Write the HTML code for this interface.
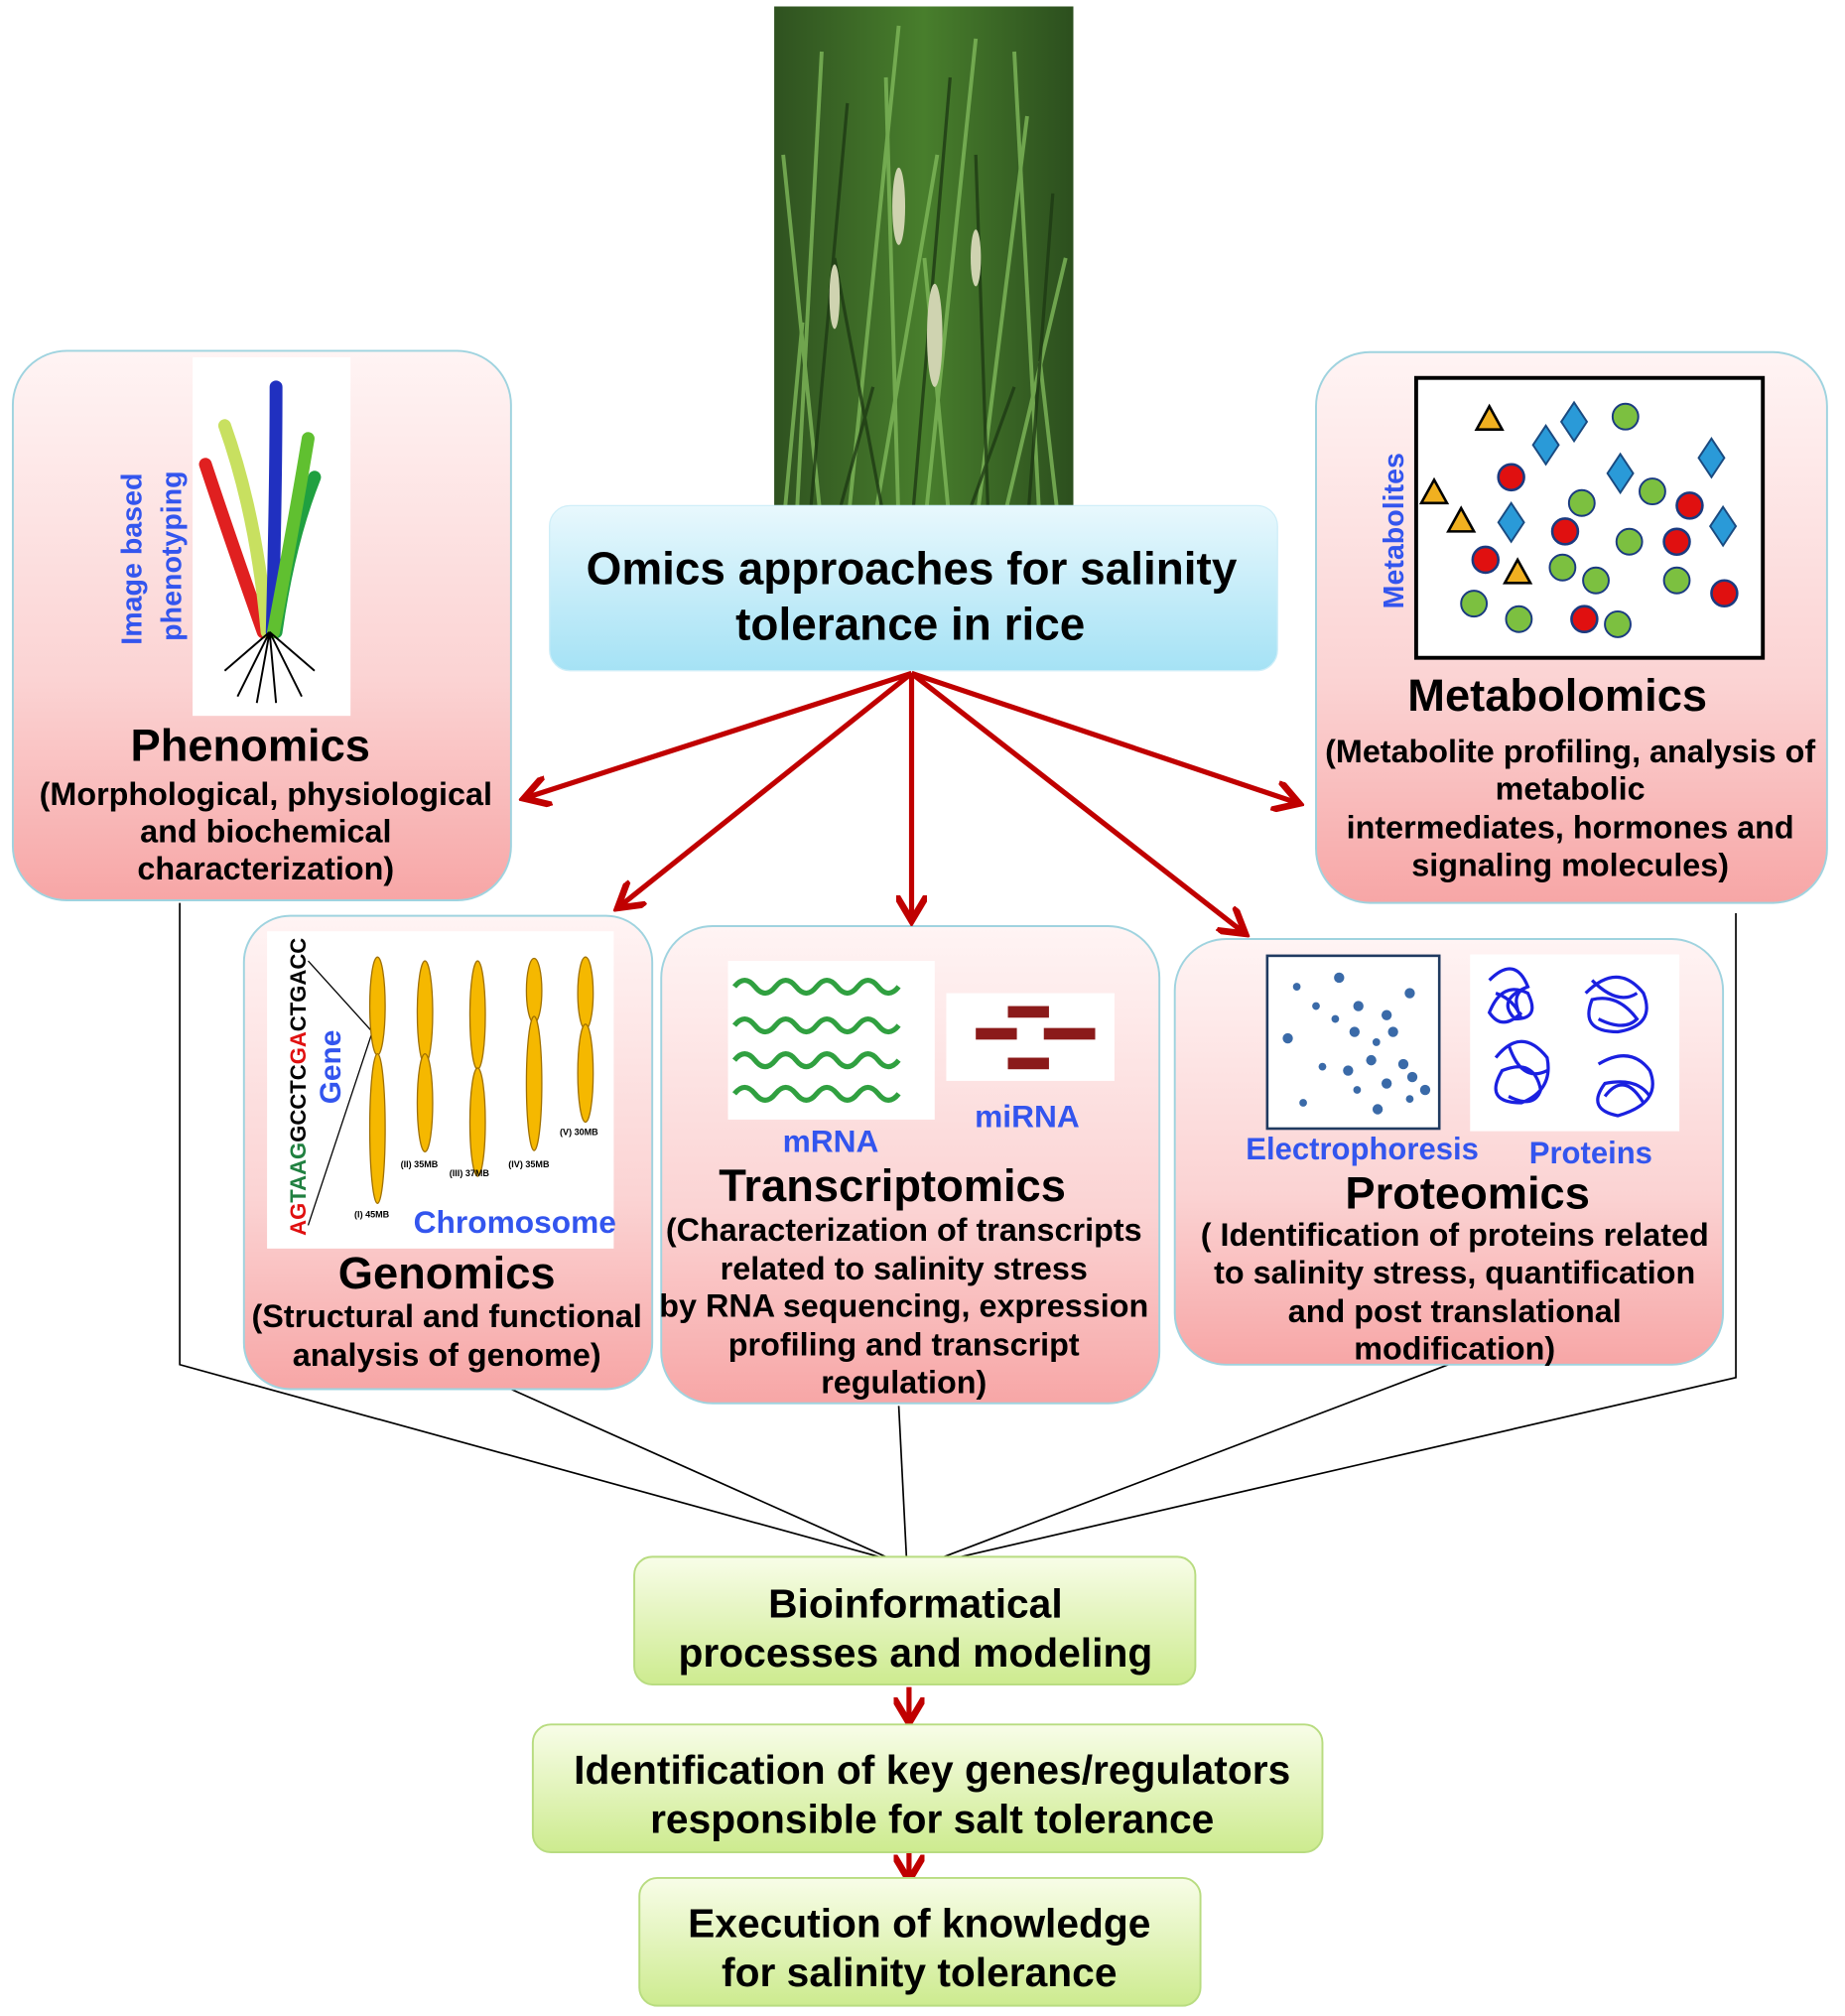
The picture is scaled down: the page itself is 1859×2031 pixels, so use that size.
<!DOCTYPE html>
<html><head><meta charset="utf-8"><style>
html,body{margin:0;padding:0;background:#fff;}
svg{display:block;}
text{font-family:"Liberation Sans",Arial,sans-serif;font-weight:bold;}
</style></head><body>
<svg width="1859" height="2031" viewBox="0 0 1437 1563" preserveAspectRatio="none" xmlns="http://www.w3.org/2000/svg">
<defs>
<linearGradient id="pk" x1="0" y1="0" x2="0" y2="1"><stop offset="0" stop-color="#fff4f4"/><stop offset="0.6" stop-color="#fbd3d3"/><stop offset="1" stop-color="#f7a6a6"/></linearGradient>
<linearGradient id="bl" x1="0" y1="0" x2="0" y2="1"><stop offset="0" stop-color="#e8f8fd"/><stop offset="1" stop-color="#a5e2f5"/></linearGradient>
<linearGradient id="gr" x1="0" y1="0" x2="0" y2="1"><stop offset="0" stop-color="#f8fde8"/><stop offset="1" stop-color="#cdeb8f"/></linearGradient>
<linearGradient id="ph" x1="0" y1="0" x2="1" y2="0"><stop offset="0" stop-color="#2f5220"/><stop offset="0.5" stop-color="#487e2c"/><stop offset="1" stop-color="#2c4f1e"/></linearGradient>
<marker id="ar" markerWidth="6" markerHeight="6" refX="5" refY="3" orient="auto" markerUnits="strokeWidth"><path d="M0,0 L5,3 L0,6" fill="none" stroke="#c00000" stroke-width="1.3"/></marker>
</defs>

<!-- photo -->
<rect x="603" y="5" width="233" height="405" fill="url(#ph)"/>
<g stroke="#7fb85a" stroke-width="3" opacity="0.8" fill="none">
<path d="M620 410 L640 40"/><path d="M660 410 L700 20"/><path d="M700 410 L690 60"/><path d="M720 410 L760 30"/><path d="M760 410 L800 90"/><path d="M640 410 L610 120"/><path d="M780 410 L830 200"/><path d="M680 410 L730 120"/><path d="M740 410 L720 200"/><path d="M810 410 L790 40"/><path d="M610 410 L625 250"/><path d="M825 410 L810 280"/>
</g>
<g stroke="#1e3a14" stroke-width="2.5" opacity="0.8" fill="none">
<path d="M630 410 L660 80"/><path d="M710 410 L740 60"/><path d="M770 410 L760 120"/><path d="M690 410 L650 200"/><path d="M800 410 L820 150"/><path d="M650 410 L680 300"/><path d="M750 410 L790 300"/>
</g>
<g fill="#cfd3b0"><ellipse cx="728" cy="260" rx="6" ry="40"/><ellipse cx="700" cy="160" rx="5" ry="30"/><ellipse cx="650" cy="230" rx="4" ry="25"/><ellipse cx="760" cy="200" rx="4" ry="22"/></g>

<!-- connectors black -->
<g stroke="#000" stroke-width="1.3" fill="none">
<path d="M140 700 L140 1058 L685 1207"/>
<path d="M398 1077 L690 1207"/>
<path d="M700 1090 L706 1207"/>
<path d="M1128 1058 L735 1207"/>
<path d="M1352 708 L1352 1068 L748 1207"/>
</g>

<!-- boxes -->
<rect x="10" y="272" width="388" height="426" rx="42" fill="url(#pk)" stroke="#9fd3df" stroke-width="1.5"/>
<rect x="1025" y="273" width="398" height="427" rx="42" fill="url(#pk)" stroke="#9fd3df" stroke-width="1.5"/>
<rect x="190" y="710" width="318" height="367" rx="36" fill="url(#pk)" stroke="#9fd3df" stroke-width="1.5"/>
<rect x="515" y="718" width="388" height="370" rx="40" fill="url(#pk)" stroke="#9fd3df" stroke-width="1.5"/>
<rect x="915" y="728" width="427" height="330" rx="40" fill="url(#pk)" stroke="#9fd3df" stroke-width="1.5"/>
<rect x="428" y="392" width="567" height="128" rx="16" fill="url(#bl)" stroke="#cfeef8" stroke-width="1"/>

<!-- red arrows -->
<g stroke="#c00000" stroke-width="4" fill="none" marker-end="url(#ar)">
<line x1="710" y1="522" x2="408" y2="619"/>
<line x1="710" y1="522" x2="481" y2="704"/>
<line x1="710" y1="522" x2="710" y2="714"/>
<line x1="710" y1="522" x2="970" y2="724"/>
<line x1="710" y1="522" x2="1012" y2="623"/>
<line x1="708" y1="1308" x2="708" y2="1336"/>
<line x1="708" y1="1432" x2="708" y2="1458"/>
</g>

<!-- green boxes -->
<rect x="494" y="1207" width="437" height="99" rx="14" fill="url(#gr)" stroke="#b8dc80" stroke-width="1.5"/>
<rect x="415" y="1337" width="615" height="99" rx="14" fill="url(#gr)" stroke="#b8dc80" stroke-width="1.5"/>
<rect x="498" y="1456" width="437" height="99" rx="14" fill="url(#gr)" stroke="#b8dc80" stroke-width="1.5"/>

<!-- title -->
<text x="710" y="453" font-size="35.5" text-anchor="middle" fill="#000">Omics approaches for salinity</text>
<text x="709" y="496" font-size="35.5" text-anchor="middle" fill="#000">tolerance in rice</text>

<!-- phenomics -->
<rect x="150" y="277" width="123" height="278" fill="#fff"/>
<g stroke-width="10" fill="none" stroke-linecap="round">
<path d="M205 490 Q180 420 160 360" stroke="#e02020"/>
<path d="M208 490 Q200 400 175 330" stroke="#c8e060"/>
<path d="M212 490 Q215 380 215 300" stroke="#2030c0"/>
<path d="M215 490 Q225 420 245 370" stroke="#20a040"/>
<path d="M213 490 Q230 400 240 340" stroke="#60c030"/>
</g>
<g stroke="#000" stroke-width="1.5" fill="none"><path d="M210 490 L185 540 M210 490 L200 545 M210 490 L215 545 M210 490 L235 540 M210 490 L175 520 M210 490 L245 520"/></g>
<text transform="translate(110 500) rotate(-90)" font-size="22" fill="#3355ee">Image based</text>
<text transform="translate(141 497) rotate(-90)" font-size="22" fill="#3355ee">phenotyping</text>
<text x="195" y="590" font-size="35" text-anchor="middle">Phenomics</text>
<text x="207" y="624" font-size="25" text-anchor="middle">(Morphological, physiological</text>
<text x="207" y="653" font-size="25" text-anchor="middle">and biochemical</text>
<text x="207" y="682" font-size="25" text-anchor="middle">characterization)</text>

<!-- metabolomics -->
<rect x="1103" y="293" width="270" height="217" fill="#fff" stroke="#000" stroke-width="3"/>
<text transform="translate(1093 472) rotate(-90)" font-size="22" fill="#3355ee">Metabolites</text>
<g fill="#f0b020" stroke="#000" stroke-width="2">
<path d="M1150 333 L1160 315 L1170 333Z"/><path d="M1107 390 L1117 372 L1127 390Z"/><path d="M1128 412 L1138 394 L1148 412Z"/><path d="M1172 452 L1182 434 L1192 452Z"/>
</g>
<g fill="#2a9ad8" stroke="#1a4a80" stroke-width="1.5">
<path d="M1226 312 L1236 327 L1226 342 L1216 327Z"/><path d="M1204 330 L1214 345 L1204 360 L1194 345Z"/><path d="M1262 352 L1272 367 L1262 382 L1252 367Z"/><path d="M1333 340 L1343 355 L1333 370 L1323 355Z"/><path d="M1177 390 L1187 405 L1177 420 L1167 405Z"/><path d="M1342 393 L1352 408 L1342 423 L1332 408Z"/>
</g>
<g fill="#e01010" stroke="#1a3a80" stroke-width="2">
<circle cx="1177" cy="370" r="10"/><circle cx="1219" cy="412" r="10"/><circle cx="1157" cy="434" r="10"/><circle cx="1316" cy="392" r="10"/><circle cx="1306" cy="420" r="10"/><circle cx="1343" cy="460" r="10"/><circle cx="1234" cy="480" r="10"/>
</g>
<g fill="#7cc040" stroke="#1a3a80" stroke-width="1.5">
<circle cx="1266" cy="323" r="10"/><circle cx="1232" cy="390" r="10"/><circle cx="1287" cy="381" r="10"/><circle cx="1269" cy="420" r="10"/><circle cx="1217" cy="440" r="10"/><circle cx="1243" cy="450" r="10"/><circle cx="1306" cy="450" r="10"/><circle cx="1148" cy="468" r="10"/><circle cx="1183" cy="480" r="10"/><circle cx="1260" cy="484" r="10"/>
</g>
<text x="1213" y="551" font-size="35" text-anchor="middle">Metabolomics</text>
<text x="1223" y="591" font-size="25" text-anchor="middle">(Metabolite profiling, analysis of</text>
<text x="1223" y="620" font-size="25" text-anchor="middle">metabolic</text>
<text x="1223" y="650" font-size="25" text-anchor="middle">intermediates, hormones and</text>
<text x="1223" y="679" font-size="25" text-anchor="middle">signaling molecules)</text>

<!-- genomics -->
<rect x="208" y="722" width="270" height="246" fill="#fff"/>
<text transform="translate(238 958) rotate(-90)" font-size="17" font-weight="normal"><tspan fill="#e01010">AG</tspan><tspan fill="#208040">TAAG</tspan><tspan fill="#000">GCCTC</tspan><tspan fill="#e01010">GA</tspan><tspan fill="#000">CTGACC</tspan></text>
<text transform="translate(265 856) rotate(-90)" font-size="23" fill="#3355ee">Gene</text>
<g stroke="#000" stroke-width="1" fill="none"><line x1="290" y1="800" x2="240" y2="745"/><line x1="290" y1="800" x2="240" y2="950"/></g>
<g fill="#f5b800" stroke="#a07000" stroke-width="1">
<ellipse cx="294" cy="780" rx="6" ry="38"/><ellipse cx="294" cy="875" rx="6" ry="58"/>
<ellipse cx="331" cy="785" rx="6" ry="40"/><ellipse cx="331" cy="855" rx="6" ry="38"/>
<ellipse cx="372" cy="787" rx="6" ry="42"/><ellipse cx="372" cy="870" rx="6" ry="42"/>
<ellipse cx="416" cy="768" rx="6" ry="25"/><ellipse cx="416" cy="840" rx="6" ry="52"/>
<ellipse cx="456" cy="770" rx="6" ry="28"/><ellipse cx="456" cy="832" rx="6" ry="38"/>
</g>
<g font-size="7" fill="#000"><text x="276" y="944">(I) 45MB</text><text x="312" y="905">(II) 35MB</text><text x="350" y="912">(III) 37MB</text><text x="396" y="905">(IV) 35MB</text><text x="436" y="880">(V) 30MB</text></g>
<text x="401" y="956" font-size="24.5" fill="#3355ee" text-anchor="middle">Chromosome</text>
<text x="348" y="999" font-size="35" text-anchor="middle">Genomics</text>
<text x="348" y="1029" font-size="25" text-anchor="middle">(Structural and functional</text>
<text x="348" y="1059" font-size="25" text-anchor="middle">analysis of genome)</text>

<!-- transcriptomics -->
<rect x="567" y="745" width="161" height="123" fill="#fff"/>
<g stroke="#30a040" stroke-width="4" fill="none">
<path d="M572 765 q8-10 16 0 t16 0 t16 0 t16 0 t16 0 t16 0 t16 0 t16 0"/>
<path d="M572 795 q8-10 16 0 t16 0 t16 0 t16 0 t16 0 t16 0 t16 0 t16 0"/>
<path d="M572 822 q8-10 16 0 t16 0 t16 0 t16 0 t16 0 t16 0 t16 0 t16 0"/>
<path d="M572 848 q8-10 16 0 t16 0 t16 0 t16 0 t16 0 t16 0 t16 0 t16 0"/>
</g>
<rect x="737" y="770" width="131" height="68" fill="#fff"/>
<g fill="#8b1a1a"><rect x="785" y="780" width="32" height="9"/><rect x="760" y="797" width="32" height="9"/><rect x="813" y="797" width="40" height="9"/><rect x="785" y="820" width="32" height="9"/></g>
<text x="647" y="893" font-size="24.5" fill="#3355ee" text-anchor="middle">mRNA</text>
<text x="800" y="874" font-size="24.5" fill="#3355ee" text-anchor="middle">miRNA</text>
<text x="695" y="931" font-size="35" text-anchor="middle">Transcriptomics</text>
<text x="704" y="962" font-size="25" text-anchor="middle">(Characterization of transcripts</text>
<text x="704" y="992" font-size="25" text-anchor="middle">related to salinity stress</text>
<text x="704" y="1021" font-size="25" text-anchor="middle">by RNA sequencing, expression</text>
<text x="704" y="1051" font-size="25" text-anchor="middle">profiling and transcript</text>
<text x="704" y="1080" font-size="25" text-anchor="middle">regulation)</text>

<!-- proteomics -->
<rect x="987" y="741" width="134" height="134" fill="#fff" stroke="#203a60" stroke-width="2"/>
<g fill="#3a6aa8">
<circle cx="1010" cy="765" r="3"/><circle cx="1043" cy="758" r="4"/><circle cx="1058" cy="780" r="4"/><circle cx="1040" cy="790" r="3"/><circle cx="1098" cy="770" r="4"/><circle cx="1025" cy="780" r="3"/><circle cx="1080" cy="787" r="4"/><circle cx="1003" cy="805" r="4"/><circle cx="1055" cy="800" r="4"/><circle cx="1072" cy="808" r="3"/><circle cx="1085" cy="800" r="4"/><circle cx="1030" cy="827" r="3"/><circle cx="1068" cy="822" r="4"/><circle cx="1093" cy="825" r="4"/><circle cx="1100" cy="835" r="4"/><circle cx="1110" cy="845" r="4"/><circle cx="1080" cy="840" r="4"/><circle cx="1057" cy="845" r="3"/><circle cx="1015" cy="855" r="3"/><circle cx="1073" cy="860" r="4"/><circle cx="1098" cy="852" r="3"/><circle cx="1050" cy="830" r="4"/>
</g>
<rect x="1145" y="740" width="163" height="137" fill="#fff"/>
<g stroke="#1a20e0" stroke-width="2.5" fill="none">
<path d="M1160 760 q20-20 30 5 q-25 10 -10 25 q20 0 10-20 q-20-10-30 15 q10 15 25 0 M1165 770 q15 5 20 20 q-10 -20 5 -25"/>
<path d="M1235 770 q25-25 45 0 q10 25-20 30 q-30 0-20-25 q20-5 35 15 q-10 10-30 0 M1240 760 q20 20 35 10"/>
<path d="M1165 820 q20-25 40 0 q5 25-20 35 q-30 0-15-25 q25-10 30 15 q-5 15-25 5 M1175 810 q10 30 30 20"/>
<path d="M1245 825 q25-15 40 5 q10 25-25 35 q-25-5-10-25 q25-5 35 10 M1250 850 q15-20 30 5"/>
</g>
<text x="1061" y="899" font-size="24" fill="#3355ee" text-anchor="middle">Electrophoresis</text>
<text x="1239" y="902" font-size="24" fill="#3355ee" text-anchor="middle">Proteins</text>
<text x="1143" y="937" font-size="35" text-anchor="middle">Proteomics</text>
<text x="1133" y="966" font-size="25" text-anchor="middle">( Identification of proteins related</text>
<text x="1133" y="995" font-size="25" text-anchor="middle">to salinity stress, quantification</text>
<text x="1133" y="1025" font-size="25" text-anchor="middle">and post translational</text>
<text x="1133" y="1054" font-size="25" text-anchor="middle">modification)</text>

<!-- green texts -->
<text x="713" y="1254" font-size="31.5" text-anchor="middle">Bioinformatical</text>
<text x="713" y="1292" font-size="31.5" text-anchor="middle">processes and modeling</text>
<text x="726" y="1383" font-size="31.5" text-anchor="middle">Identification of key genes/regulators</text>
<text x="726" y="1421" font-size="31.5" text-anchor="middle">responsible for salt tolerance</text>
<text x="716" y="1502" font-size="31.5" text-anchor="middle">Execution of knowledge</text>
<text x="716" y="1540" font-size="31.5" text-anchor="middle">for salinity tolerance</text>
</svg>
</body></html>
